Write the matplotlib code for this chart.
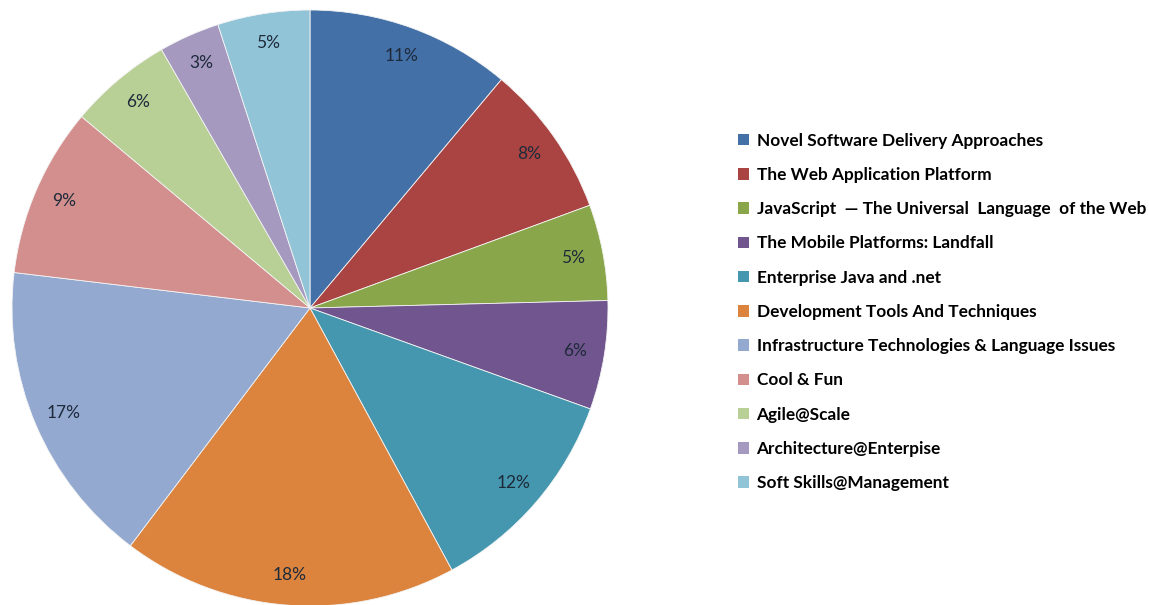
import matplotlib.pyplot as plt
from matplotlib.patches import Patch

# 会议主题分布
topics = [
    'Novel Software Delivery Approaches',
    'The Web Application Platform',
    'JavaScript  \u2014 The Universal  Language  of the Web',
    'The Mobile Platforms: Landfall',
    'Enterprise Java and .net',
    'Development Tools And Techniques',
    'Infrastructure Technologies & Language Issues',
    'Cool & Fun',
    'Agile@Scale',
    'Architecture@Enterpise',
    'Soft Skills@Management',
]
shares = [11.1, 8.3, 5.2, 5.9, 11.6, 18.2, 16.6, 9.2, 5.6, 3.3, 5.0]
colors = ['#4470A8', '#A94442', '#8AA64A', '#71558F', '#4497AE', '#DC843D',
          '#93A9D0', '#D38F8D', '#B8CF95', '#A599BF', '#92C4D8']

W, H = 1149, 605
fig = plt.figure(figsize=(W / 100, H / 100), dpi=100)

cx, cy, r = 310, 308, 298
ax = fig.add_axes([(cx - r) / W, (H - cy - r) / H, 2 * r / W, 2 * r / H])
wedges, texts, autotexts = ax.pie(
    shares, colors=colors, startangle=90, counterclock=False,
    autopct='%.0f%%', pctdistance=0.9, radius=1,
    wedgeprops=dict(edgecolor='#f4f4f4', linewidth=0.6),
    textprops=dict(family='Lato', fontsize=12.5, color='#1e2a3a'))
ax.set_xlim(-1, 1)
ax.set_ylim(-1, 1)
ax.set_aspect('equal')
ax.axis('off')

handles = [Patch(facecolor=c, edgecolor='none') for c in colors]
fig.legend(handles, topics, loc='upper left',
           bbox_to_anchor=(729 / W, 1 - 124 / H), frameon=False,
           prop=dict(family='Lato', weight='bold', size=12.4),
           handlelength=0.65, handleheight=0.65, handletextpad=0.45,
           labelspacing=1.06, borderpad=0)

fig.savefig('out.png', dpi=100)
